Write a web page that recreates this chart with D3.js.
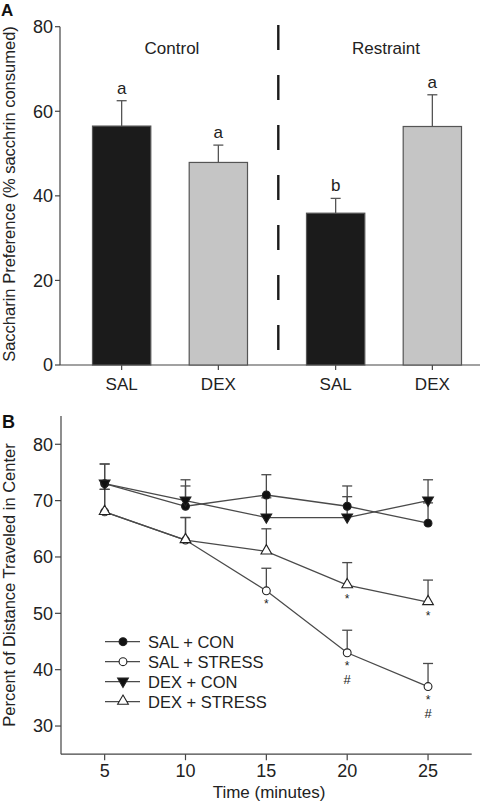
<!DOCTYPE html>
<html>
<head>
<meta charset="utf-8">
<script src="https://cdn.jsdelivr.net/npm/d3@7"></script>
<style>
  html, body { margin: 0; padding: 0; background: #fff; }
  svg { display: block; font-family: "Liberation Sans", Arial, Helvetica, sans-serif; }
</style>
</head>
<body>
<svg id="chart" width="489" height="802"></svg>
<script>
// ---------- Panel A data ----------
const groupsA = ["Control", "Restraint"];
const drugsA = ["SAL", "DEX"];
const barGroup = ["Control", "Control", "Restraint", "Restraint"];
const barDrug = ["SAL", "DEX", "SAL", "DEX"];
const barMean = [56.5, 47.9, 35.9, 56.4];
const barErr = [6.0, 4.1, 3.5, 7.5];
const barLetter = ["a", "a", "b", "a"];
const yTicksA = [0, 20, 40, 60, 80];

// ---------- Panel B data ----------
const times = [5, 10, 15, 20, 25];
const salCon = [73, 69, 71, 69, 66];
const salConErr = [3.5, 3.6, 3.6, 3.6, 3.6];
const salStress = [68, 63, 54, 43, 37];
const salStressErr = [4.0, 4.0, 4.0, 4.0, 4.1];
const dexCon = [73, 70, 67, 67, 70];
const dexConErr = [3.5, 3.7, 3.5, 3.7, 3.7];
const dexStress = [68, 63, 61, 55, 52];
const dexStressErr = [4.0, 4.0, 4.0, 4.0, 3.9];
const seriesNames = ["SAL + CON", "SAL + STRESS", "DEX + CON", "DEX + STRESS"];
const starsSalStress = ["", "", "*", "*", "*"];
const hashSalStress = ["", "", "", "#", "#"];
const starsDexStress = ["", "", "", "*", "*"];
const yTicksB = [30, 40, 50, 60, 70, 80];
const xTicksB = [5, 10, 15, 20, 25];

const svg = d3.select("#chart");
const ink = "#222";
const lineCol = "#4a4a4a";

// ================= PANEL A =================
const gA = svg.append("g");
const yA = d3.scaleLinear().domain([0, 80]).range([365, 26.7]);
const groupX = d3.scaleBand().domain(groupsA).range([63, 491]).padding(0);
const drugX = d3.scaleBand().domain(drugsA).range([0, groupX.bandwidth()])
  .paddingInner(0.397).paddingOuter(0.305);
const barLeft = i => groupX(barGroup[i]) + drugX(barDrug[i]);
const barCenter = i => barLeft(i) + drugX.bandwidth() / 2;

// axes
gA.append("line").attr("x1", 60).attr("x2", 60).attr("y1", yA(80)).attr("y2", yA(0))
  .attr("stroke", "#444").attr("stroke-width", 1.2);
gA.append("line").attr("x1", 60).attr("x2", 480).attr("y1", yA(0)).attr("y2", yA(0))
  .attr("stroke", "#444").attr("stroke-width", 1.2);
yTicksA.forEach(t => {
  gA.append("line").attr("x1", 55).attr("x2", 60).attr("y1", yA(t)).attr("y2", yA(t))
    .attr("stroke", "#444").attr("stroke-width", 1.2);
  gA.append("text").attr("x", 53).attr("y", yA(t)).attr("dy", "0.35em")
    .attr("text-anchor", "end").attr("font-size", 18).attr("fill", ink).text(t);
});
barMean.forEach((v, i) => {
  const cx = barCenter(i);
  gA.append("line").attr("x1", cx).attr("x2", cx).attr("y1", yA(0)).attr("y2", yA(0) + 5)
    .attr("stroke", "#444").attr("stroke-width", 1.2);
  gA.append("text").attr("x", cx).attr("y", 390).attr("text-anchor", "middle")
    .attr("font-size", 17).attr("fill", ink).text(barDrug[i]);
});

// bars
barMean.forEach((v, i) => {
  const x0 = barLeft(i), w = drugX.bandwidth(), cx = barCenter(i);
  const top = yA(v + barErr[i]);
  gA.append("line").attr("x1", cx).attr("x2", cx).attr("y1", yA(v)).attr("y2", top)
    .attr("stroke", "#555").attr("stroke-width", 1.3);
  gA.append("line").attr("x1", cx - 5).attr("x2", cx + 5).attr("y1", top).attr("y2", top)
    .attr("stroke", "#555").attr("stroke-width", 1.3);
  gA.append("rect").attr("x", x0).attr("y", yA(v)).attr("width", w).attr("height", yA(0) - yA(v))
    .attr("fill", barDrug[i] === "SAL" ? "#1b1b1b" : "#c5c5c5")
    .attr("stroke", "#555").attr("stroke-width", 1.2);
  gA.append("text").attr("x", cx).attr("y", top - 7).attr("text-anchor", "middle")
    .attr("font-size", 17).attr("fill", ink).text(barLetter[i]);
});

// group labels + divider
groupsA.forEach(g => {
  gA.append("text").attr("x", groupX(g) + groupX.bandwidth() / 2 + 2).attr("y", 54)
    .attr("text-anchor", "middle").attr("font-size", 17).attr("fill", ink).text(g);
});
gA.append("line").attr("x1", groupX("Restraint") + 1.3).attr("x2", groupX("Restraint") + 1.3)
  .attr("y1", 25).attr("y2", 350)
  .attr("stroke", "#1a1a1a").attr("stroke-width", 2.4).attr("stroke-dasharray", "25,25");

// y label
gA.append("text").attr("transform", `translate(15,194) rotate(-90)`)
  .attr("text-anchor", "middle").attr("font-size", 16.5).attr("fill", ink)
  .text("Saccharin Preference (% sacchrin consumed)");
gA.append("text").attr("x", 1).attr("y", 16).attr("font-size", 17).attr("font-weight", "bold")
  .attr("fill", "#111").text("A");

// ================= PANEL B =================
const gB = svg.append("g");
const xB = d3.scaleLinear().domain([2.3, 27.7]).range([61, 471.7]);
const yB = d3.scaleLinear().domain([25, 85]).range([754.2, 416.1]);

gB.append("line").attr("x1", 61).attr("x2", 61).attr("y1", yB(85)).attr("y2", yB(25))
  .attr("stroke", "#444").attr("stroke-width", 1.2);
gB.append("line").attr("x1", 61).attr("x2", 471.7).attr("y1", yB(25)).attr("y2", yB(25))
  .attr("stroke", "#444").attr("stroke-width", 1.2);
yTicksB.forEach(t => {
  gB.append("line").attr("x1", 55).attr("x2", 61).attr("y1", yB(t)).attr("y2", yB(t))
    .attr("stroke", "#444").attr("stroke-width", 1.2);
  gB.append("text").attr("x", 53).attr("y", yB(t)).attr("dy", "0.35em")
    .attr("text-anchor", "end").attr("font-size", 18).attr("fill", ink).text(t);
});
xTicksB.forEach(t => {
  gB.append("line").attr("x1", xB(t)).attr("x2", xB(t)).attr("y1", yB(25)).attr("y2", yB(25) + 6)
    .attr("stroke", "#444").attr("stroke-width", 1.2);
  gB.append("text").attr("x", xB(t)).attr("y", 777).attr("text-anchor", "middle")
    .attr("font-size", 18).attr("fill", ink).text(t);
});
gB.append("text").attr("x", 269).attr("y", 798).attr("text-anchor", "middle")
  .attr("font-size", 17).attr("fill", ink).text("Time (minutes)");
gB.append("text").attr("transform", `translate(15,585) rotate(-90)`)
  .attr("text-anchor", "middle").attr("font-size", 16.5).attr("fill", ink)
  .text("Percent of Distance Traveled in Center");
gB.append("text").attr("x", 2).attr("y", 428).attr("font-size", 18).attr("font-weight", "bold")
  .attr("fill", "#111").text("B");

const series = [
  { vals: salCon, err: salConErr, marker: "circle", fill: "#111" },
  { vals: salStress, err: salStressErr, marker: "circle", fill: "#fff" },
  { vals: dexCon, err: dexConErr, marker: "down", fill: "#111" },
  { vals: dexStress, err: dexStressErr, marker: "up", fill: "#fff" }
];
const symCircle = d3.symbol().type(d3.symbolCircle).size(48);
const symTri = d3.symbol().type(d3.symbolTriangle).size(50);

function drawMarker(g, kind, fill, x, y) {
  if (kind === "circle") {
    g.append("path").attr("d", symCircle()).attr("transform", `translate(${x},${y})`)
      .attr("fill", fill).attr("stroke", "#222").attr("stroke-width", 1.1);
  } else {
    const rot = kind === "down" ? 180 : 0;
    g.append("path").attr("d", symTri()).attr("transform", `translate(${x},${y - 0.5}) rotate(${rot})`)
      .attr("fill", fill).attr("stroke", "#222").attr("stroke-width", 1.1);
  }
}

// error bars
series.forEach(s => {
  s.vals.forEach((v, i) => {
    const x = xB(times[i]), top = yB(v + s.err[i]);
    gB.append("line").attr("x1", x).attr("x2", x).attr("y1", yB(v)).attr("y2", top)
      .attr("stroke", lineCol).attr("stroke-width", 1.3);
    gB.append("line").attr("x1", x - 5).attr("x2", x + 5).attr("y1", top).attr("y2", top)
      .attr("stroke", lineCol).attr("stroke-width", 1.3);
  });
});
// lines
const lineGen = d3.line().x((d, i) => xB(times[i])).y(d => yB(d));
series.forEach(s => {
  gB.append("path").attr("d", lineGen(s.vals)).attr("fill", "none")
    .attr("stroke", lineCol).attr("stroke-width", 1.3);
});
// markers
series.forEach(s => {
  s.vals.forEach((v, i) => drawMarker(gB, s.marker, s.fill, xB(times[i]), yB(v)));
});
// significance marks
function sig(arr, vals, offset, size) {
  arr.forEach((m, i) => {
    if (!m) return;
    gB.append("text").attr("x", xB(times[i])).attr("y", yB(vals[i]) + offset)
      .attr("text-anchor", "middle").attr("font-size", size).attr("fill", ink).text(m);
  });
}
sig(starsSalStress, salStress, 17.5, 12);
sig(hashSalStress, salStress, 31, 13);
sig(starsDexStress, dexStress, 17.5, 12);

// legend
series.forEach((s, k) => {
  const ly = 641.7 + k * 20;
  gB.append("line").attr("x1", 105).attr("x2", 140).attr("y1", ly).attr("y2", ly)
    .attr("stroke", lineCol).attr("stroke-width", 1.3);
  drawMarker(gB, s.marker, s.fill, 123, ly);
  gB.append("text").attr("x", 148).attr("y", ly).attr("dy", "0.36em")
    .attr("font-size", 16.5).attr("fill", ink).text(seriesNames[k]);
});
</script>
</body>
</html>
